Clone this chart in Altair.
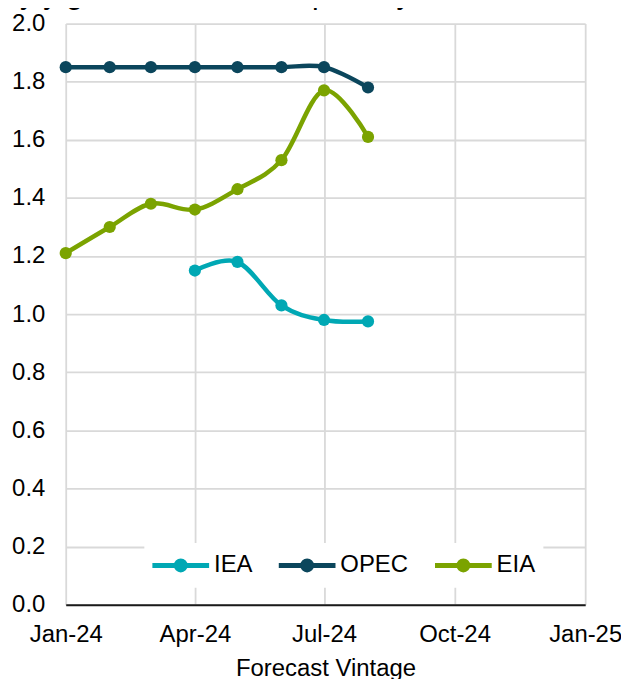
import altair as alt
import pandas as pd

months = ["2024-01-01", "2024-02-01", "2024-03-01", "2024-04-01",
          "2024-05-01", "2024-06-01", "2024-07-01", "2024-08-01"]
series_names = ["IEA", "OPEC", "EIA"]
series_colors = ["#00A8B4", "#0B465C", "#7BA300"]

iea = [None, None, None, 1.15, 1.18, 1.03, 0.98, 0.975]
opec = [1.85, 1.85, 1.85, 1.85, 1.85, 1.85, 1.85, 1.78]
eia = [1.21, 1.30, 1.38, 1.36, 1.43, 1.53, 1.77, 1.61]

y_ticks = [0.0, 0.2, 0.4, 0.6, 0.8, 1.0, 1.2, 1.4, 1.6, 1.8, 2.0]
x_tick_dates = [(2024, 1), (2024, 4), (2024, 7), (2024, 10), (2025, 1)]

title_text = "y/y growth in demand per day"
x_title = "Forecast Vintage"

rows = []
for name, vals in zip(series_names, [iea, opec, eia]):
    for m, v in zip(months, vals):
        if v is not None:
            rows.append({"date": m, "series": name, "value": v})
df = pd.DataFrame(rows)

FONT = "Liberation Sans"
FS = 24

# legend glyph: a line with a dot, drawn as strokes (units of 12px)
legend_path = ("M-1.2,0L3.55,0"
               "M1.55,0A0.375,0.375,0,1,1,0.8,0A0.375,0.375,0,1,1,1.55,0"
               "M1.258,0A0.083,0.083,0,1,1,1.092,0A0.083,0.083,0,1,1,1.258,0")

x_enc = alt.X(
    "date:T",
    scale=alt.Scale(type="utc",
                    domain=[alt.DateTime(year=2024, month=1, date=1, utc=True),
                            alt.DateTime(year=2025, month=1, date=1, utc=True)]),
    axis=alt.Axis(
        values=[alt.DateTime(year=y, month=m, date=1, utc=True) for y, m in x_tick_dates],
        labelExpr="utcFormat(datum.value, '%b-%y')",
        title=x_title, titleFontSize=FS, titleFont=FONT, titleFontWeight="normal",
        titleColor="black", titlePadding=10,
        labelFontSize=FS, labelFont=FONT, labelColor="black", labelPadding=18,
        ticks=False, domain=True, domainColor="#1a1a1a", domainWidth=2,
        grid=True, gridColor="#d9d9d9", gridWidth=1.8, labelFlush=False,
    ),
)
y_enc = alt.Y(
    "value:Q",
    scale=alt.Scale(domain=[0, 2], nice=False, zero=True),
    axis=alt.Axis(
        values=y_ticks, format=".1f", title=None,
        labelFontSize=FS, labelFont=FONT, labelColor="black", labelPadding=21,
        ticks=False, domain=False, grid=True, gridColor="#d9d9d9", gridWidth=1.8,
    ),
)
color_enc = alt.Color(
    "series:N",
    scale=alt.Scale(domain=series_names, range=series_colors),
    sort=series_names,
    legend=alt.Legend(
        title=None, orient="none", direction="horizontal",
        legendX=79, legendY=522,
        fillColor="white", padding=8,
        symbolType=legend_path, symbolSize=576, symbolStrokeWidth=5,
        labelFontSize=FS, labelFont=FONT, labelColor="black",
        labelOffset=33, columnPadding=16,
    ),
)

chart = alt.Chart(df).mark_line(
    interpolate="cardinal", strokeWidth=4.5,
    point=alt.OverlayMarkDef(filled=True, size=150, opacity=1),
).encode(
    x=x_enc, y=y_enc, color=color_enc, detail="series:N",
).properties(
    width=522, height=584,
    title=alt.TitleParams(text=title_text, fontSize=30, font=FONT, color="black",
                          fontWeight="normal", anchor="start", frame="group",
                          dx=-46, dy=22, offset=0, baseline="alphabetic"),
    autosize=alt.AutoSizeParams(type="none"),
    padding={"left": 58, "top": 14, "right": 36, "bottom": 73},
).configure_view(stroke=None)

chart.save("out.html", embed_options={"renderer": "svg", "actions": False})
